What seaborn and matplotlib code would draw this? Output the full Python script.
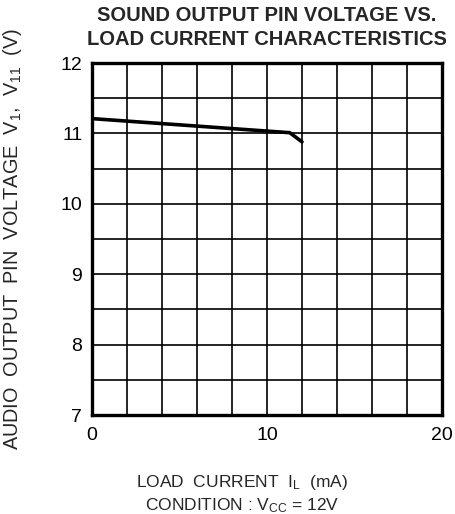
import matplotlib
matplotlib.use("Agg")
import matplotlib.pyplot as plt
import seaborn as sns
import pandas as pd
from matplotlib.ticker import MultipleLocator

# Data
load_current_ma = [0.0, 11.3, 12.0]
output_voltage_v = [11.21, 11.01, 10.88]

x_ticks = [0, 10, 20]
y_ticks = [7, 8, 9, 10, 11, 12]

title = "SOUND OUTPUT PIN VOLTAGE VS.\nLOAD CURRENT CHARACTERISTICS"
xlabel = "LOAD  CURRENT  $\\mathregular{I_L}$  (mA)\nCONDITION : $\\mathregular{V_{CC}}$ = 12V"
ylabel = "AUDIO  OUTPUT  PIN  VOLTAGE  $\\mathregular{V_1}$,  $\\mathregular{V_{11}}$  (V)"

sns.set_style("white")
plt.rcParams['font.family'] = ['Liberation Sans', 'DejaVu Sans']
plt.rcParams['mathtext.default'] = 'regular'

df = pd.DataFrame({"I": load_current_ma, "V": output_voltage_v})

fig = plt.figure(figsize=(4.55, 5.14), dpi=100)
ax = fig.add_axes([92/455, 1-415/514, 350/455, 352/514])

sns.lineplot(data=df, x="I", y="V", ax=ax, color="black", linewidth=2.6)

ax.set_xlim(0, 20)
ax.set_ylim(7, 12)
ax.set_xticks(x_ticks)
ax.set_yticks(y_ticks)
ax.xaxis.set_minor_locator(MultipleLocator(2))
ax.yaxis.set_minor_locator(MultipleLocator(0.5))
ax.grid(True, which="both", color="black", linewidth=1.2)
ax.tick_params(which="both", length=0, labelsize=14, colors="black")
ax.tick_params(axis="x", pad=9)
ax.tick_params(axis="y", pad=7)
for s in ax.spines.values():
    s.set_visible(True)
    s.set_color("black")
    s.set_linewidth(2.4)

ax.set_xlabel(xlabel, fontsize=12.5, linespacing=1.3)
ax.xaxis.set_label_coords(0.43, -0.165, transform=ax.transAxes)
ax.xaxis.label.set_verticalalignment("top")
ax.set_ylabel(ylabel, fontsize=14.3)
ax.yaxis.set_label_coords(-0.195, 0.5, transform=ax.transAxes)
ax.set_title(title, fontsize=14.5, fontweight="bold", pad=13, linespacing=1.35)

fig.savefig("out.png", dpi=100)
